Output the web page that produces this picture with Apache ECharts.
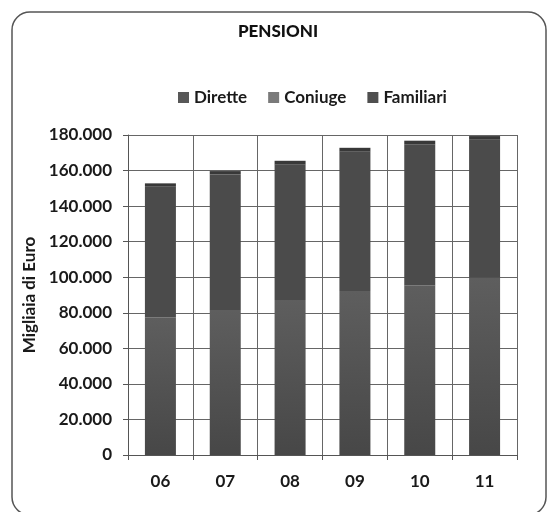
<!DOCTYPE html>
<html>
<head>
<meta charset="utf-8">
<script src="https://cdn.jsdelivr.net/npm/echarts@6/dist/echarts.min.js"></script>
<style>
  html, body { margin: 0; padding: 0; background: #fff; }
  #chart { width: 547px; height: 512px; }
</style>
</head>
<body>
<div id="chart"></div>
<script>
// anni (etichette asse x)
const years = ['06', '07', '08', '09', '10', '11']

// valori in migliaia di euro
const dirette = [77400, 81500, 87200, 92200, 95400, 99700]
const coniuge = [73500, 76300, 76300, 78600, 79400, 77700]
const familiari = [1900, 1900, 2000, 2000, 2000, 2000]

const seriesNames = ['Dirette', 'Coniuge', 'Familiari']
const legendColors = ['#585858', '#7a7a7a', '#4f4f4f']

const fmt = v => String(v).replace(/\B(?=(\d{3})+(?!\d))/g, '.')

const chart = echarts.init(document.getElementById('chart'))

const labelFont = { fontFamily: 'Lato', fontWeight: 'bold', color: '#1a1a1a' }

chart.setOption({
  animation: false,
  title: {
    text: 'PENSIONI',
    left: 273,
    textAlign: 'center',
    top: 18,
    textStyle: { fontFamily: 'Lato', fontWeight: 900, fontSize: 17, color: '#111' }
  },
  legend: {
    top: 84,
    left: 173,
    itemWidth: 11,
    itemHeight: 11,
    itemGap: 21,
    icon: 'rect',
    textStyle: { fontFamily: 'Lato', fontWeight: 'bold', fontSize: 17, color: '#1a1a1a' },
    data: seriesNames.map((n, i) => ({ name: n, itemStyle: { color: legendColors[i] } }))
  },
  graphic: [{
    type: 'rect',
    shape: { x: 12, y: 12, width: 534, height: 503, r: 18 },
    style: { fill: 'none', stroke: '#555', lineWidth: 1.5 },
    silent: true
  }],
  grid: { left: 128, right: 30, top: 135, bottom: 57, containLabel: false },
  xAxis: {
    type: 'category',
    data: years,
    axisLine: { lineStyle: { color: '#555', width: 1 } },
    axisTick: { show: true, length: 5, lineStyle: { color: '#555' } },
    splitLine: { show: true, lineStyle: { color: '#666', width: 1 } },
    axisLabel: { ...labelFont, fontSize: 17, margin: 18 }
  },
  yAxis: {
    type: 'value',
    min: 0,
    max: 180000,
    interval: 20000,
    name: 'Migliaia di Euro',
    nameLocation: 'middle',
    nameGap: 87,
    nameTextStyle: { ...labelFont, fontSize: 17 },
    axisLine: { show: true, lineStyle: { color: '#555', width: 1 } },
    axisTick: { show: true, length: 5, lineStyle: { color: '#555' } },
    splitLine: { show: true, lineStyle: { color: '#666', width: 1 } },
    axisLabel: { ...labelFont, fontSize: 17, margin: 16, formatter: fmt }
  },
  series: [
    {
      name: 'Dirette',
      type: 'bar',
      stack: 'tot',
      barWidth: 31,
      itemStyle: {
        color: new echarts.graphic.LinearGradient(0, 0, 0, 1, [
          { offset: 0, color: '#5e5e5e' },
          { offset: 1, color: '#474747' }
        ])
      },
      data: dirette
    },
    {
      name: 'Coniuge',
      type: 'bar',
      stack: 'tot',
      barWidth: 31,
      itemStyle: { color: '#4b4b4b' },
      data: coniuge
    },
    {
      name: 'Familiari',
      type: 'bar',
      stack: 'tot',
      barWidth: 31,
      itemStyle: { color: '#383838' },
      data: familiari
    }
  ]
})
</script>
</body>
</html>
